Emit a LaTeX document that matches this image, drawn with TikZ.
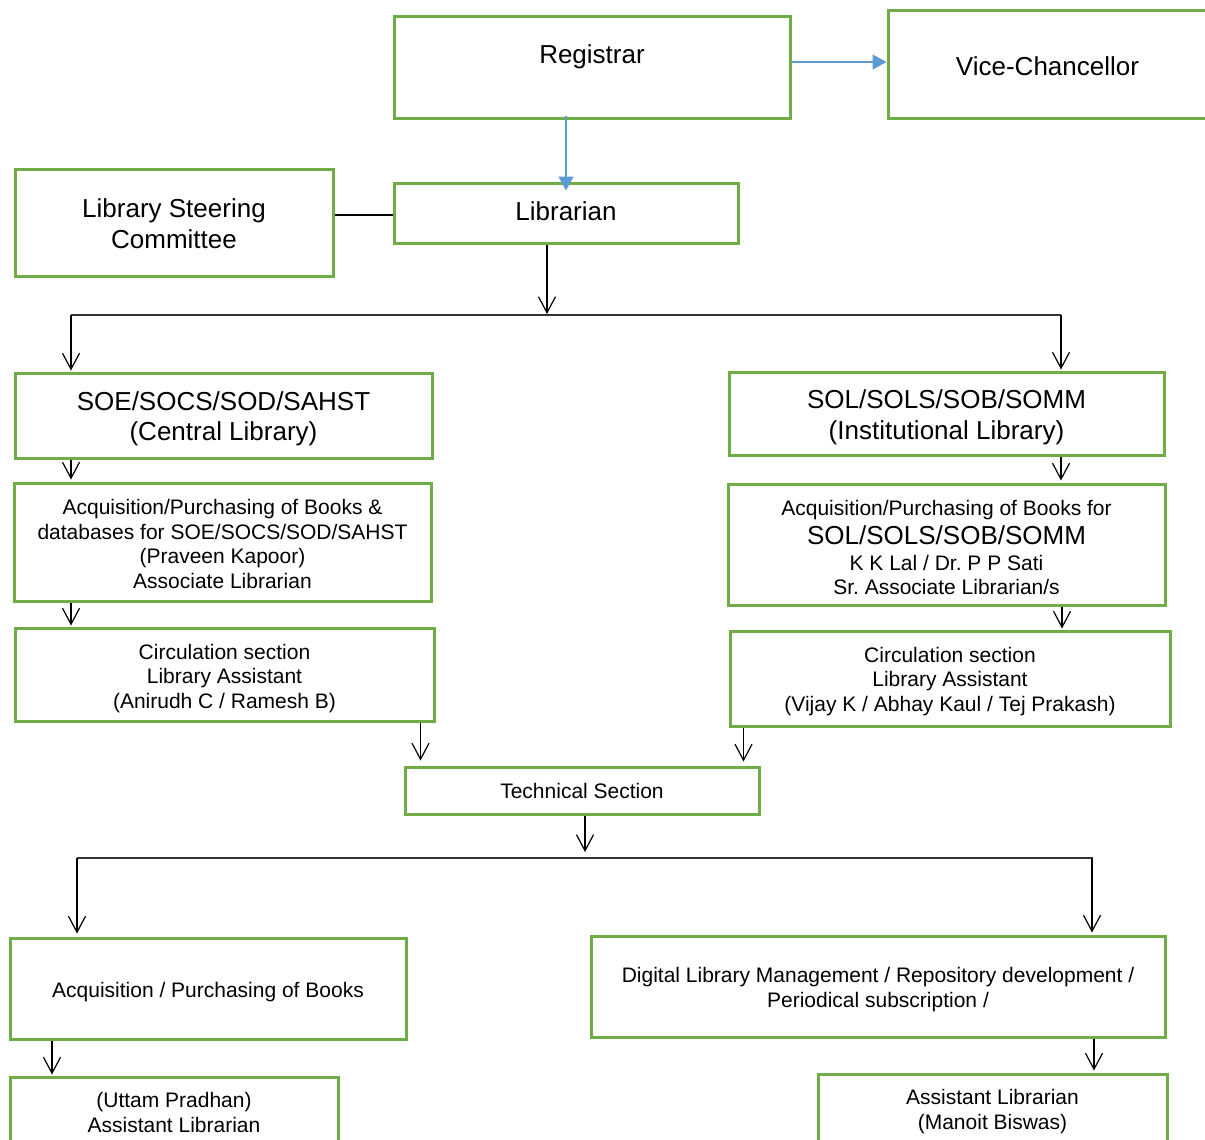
\documentclass[tikz,border=0pt]{standalone}
\usepackage{fontspec}
\setmainfont{Liberation Sans}
\usetikzlibrary{arrows.meta,calc}
\definecolor{boxgreen}{HTML}{70AD47}
\definecolor{linkblue}{HTML}{5B9BD5}
\frenchspacing
% text lines in a box, lowered by #1 without changing the box size
\newcommand{\boxlines}[2]{\raisebox{#1}[\height][\depth]{\begin{tabular}{@{}c@{}}#2\end{tabular}}}
\tikzset{
  box/.style={rectangle, draw=boxgreen, line width=3pt, inner sep=0pt, align=center, fill=white},
  bigtext/.style={font=\fontsize{26}{30.5}\selectfont},
  smalltext/.style={font=\fontsize{21}{24.5}\selectfont},
  arr/.style={line width=1.2pt, -{Straight Barb[length=16pt,width=17pt,line width=1.2pt]}},
  bus/.style={line width=1.8pt, draw=black!80},
  bluearr/.style={draw=linkblue, line width=1.3pt, -{Triangle[length=14pt,width=15pt]}, linkblue}
}
\begin{document}
\begin{tikzpicture}[x=1pt,y=-1pt]
\fill[white] (0,0) rectangle (1205,1140);
\useasboundingbox (0,0) rectangle (1205,1140);

% boxes
\node[box,bigtext,minimum width=396pt,minimum height=101pt] (reg) at (592,67.5) {\raisebox{11pt}[\height][\depth]{Registrar}};
\node[box,bigtext,minimum width=319pt,minimum height=107pt] (vc) at (1047.5,64.5) {\raisebox{-2pt}[\height][\depth]{Vice-Chancellor}};
\node[box,bigtext,minimum width=344pt,minimum height=60pt] (lib) at (566,213) {\raisebox{2pt}[\height][\depth]{Librarian}};
\node[box,bigtext,minimum width=318pt,minimum height=107pt] (lsc) at (174,222.5) {\boxlines{-4.5pt}{Library Steering\\Committee}};

\node[box,bigtext,minimum width=417pt,minimum height=85pt] (soe) at (223.5,415.5) {\boxlines{-4pt}{SOE/SOCS/SOD/SAHST\\(Central Library)}};
\node[box,bigtext,minimum width=435pt,minimum height=83pt] (sol) at (946.5,413.5) {\boxlines{-4.5pt}{SOL/SOLS/SOB/SOMM\\(Institutional Library)}};

\node[box,smalltext,minimum width=417pt,minimum height=118pt] (acqL) at (222.5,542) {\boxlines{-4.5pt}{Acquisition/Purchasing of Books \&\\databases for SOE/SOCS/SOD/SAHST\\(Praveen Kapoor)\\Associate Librarian}};
\node[box,smalltext,minimum width=437pt,minimum height=121pt] (acqR) at (946.5,544.5) {\boxlines{-5.5pt}{Acquisition/Purchasing of Books for\\[2.6pt]{\fontsize{26}{30}\selectfont SOL/SOLS/SOB/SOMM}\\[1.5pt]K K Lal / Dr. P P Sati\\Sr. Associate Librarian/s}};

\node[box,smalltext,minimum width=419pt,minimum height=93pt] (circL) at (224.5,674.5) {\boxlines{-4.5pt}{Circulation section\\Library Assistant\\(Anirudh C / Ramesh B)}};
\node[box,smalltext,minimum width=440pt,minimum height=95pt] (circR) at (950,678.5) {\boxlines{-3.5pt}{Circulation section\\Library Assistant\\(Vijay K / Abhay Kaul / Tej Prakash)}};

\node[box,smalltext,minimum width=354pt,minimum height=47pt] (tech) at (582,790.5) {Technical Section};

\node[box,smalltext,minimum width=396pt,minimum height=101pt] (acqB) at (208,988.5) {\raisebox{-4pt}[\height][\depth]{Acquisition / Purchasing of Books}};
\node[box,smalltext,minimum width=574pt,minimum height=101pt] (dig) at (878,986.5) {\boxlines{-3.5pt}{Digital Library Management / Repository development /\\Periodical subscription /}};

\node[box,smalltext,minimum width=328pt,minimum height=71pt] (utt) at (174,1112.5) {\boxlines{-2.5pt}{(Uttam Pradhan)\\Assistant Librarian}};
\node[box,smalltext,minimum width=349pt,minimum height=71pt] (asl) at (992.5,1109.5) {\boxlines{-2.5pt}{Assistant Librarian\\(Manoit Biswas)}};

% blue connectors
\draw[bluearr] ([yshift=5.5pt]reg.east) -- ([yshift=5.5pt]reg.east -| vc.west);
\draw[bluearr] ([yshift=4pt]reg.south -| lib.north) -- ([yshift=-9pt]lib.north);

% steering committee link
\draw[line width=1.2pt] ([yshift=-2pt]lib.west) -- ([yshift=-2pt]lib.west -| lsc.east);

% first bus
\coordinate (b1) at (547,315);
\coordinate (bl1) at (71,315);
\coordinate (br1) at (1061,315);
\draw[bus] (bl1) -- (br1);
\draw[arr] (lib.south -| b1) -- ([yshift=1pt]b1);
\draw[arr] (bl1) -- ([yshift=1pt]bl1 |- soe.north);
\draw[arr] (br1) -- ([yshift=1pt]br1 |- sol.north);

\draw[arr] (bl1 |- soe.south) -- ([yshift=2pt]bl1 |- acqL.north);
\draw[arr] (bl1 |- acqL.south) -- ([yshift=1pt]bl1 |- circL.north);
\draw[arr] (br1 |- sol.south) -- ([yshift=2pt]br1 |- acqR.north);
\draw[arr] ([xshift=1pt]br1 |- acqR.south) -- ([xshift=1pt,yshift=1pt]br1 |- circR.north);

% to technical section
\coordinate (tl) at ([xshift=17pt,yshift=5pt]tech.north west);
\coordinate (tr) at ([xshift=-17pt,yshift=4pt]tech.north east);
\draw[arr] (tl |- circL.south) -- (tl);
\draw[arr] (tr |- circR.south) -- (tr);

% second bus
\coordinate (b2) at (585,858);
\coordinate (bl2) at (77,858);
\coordinate (br2) at (1092,858);
\draw[bus] (bl2) -- ([xshift=1pt]br2);
\draw[arr] (tech.south -| b2) -- ([yshift=6pt]b2);
\draw[arr] (bl2) -- ([yshift=3pt]bl2 |- acqB.north);
\draw[arr] (br2) -- ([yshift=2pt]br2 |- dig.north);

\coordinate (cl3) at (52,0);
\coordinate (cr3) at (1094,0);
\draw[arr] (cl3 |- acqB.south) -- ([yshift=1pt]cl3 |- utt.north);
\draw[arr] (cr3 |- dig.south) -- ([yshift=2pt]cr3 |- asl.north);
\end{tikzpicture}
\end{document}
